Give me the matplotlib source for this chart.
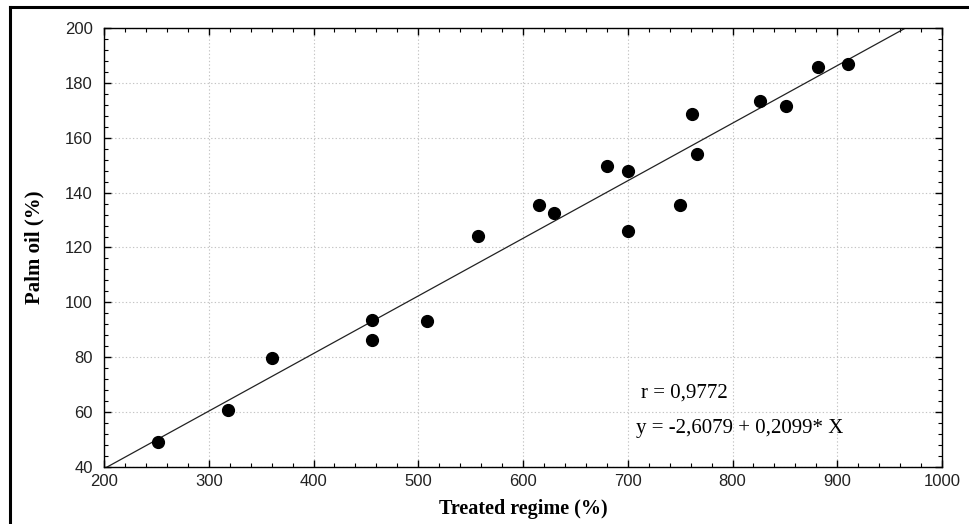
import matplotlib
matplotlib.use("Agg")
import matplotlib.pyplot as plt
import numpy as np
from matplotlib.lines import Line2D
from matplotlib.ticker import MultipleLocator

# Data
treated = [252, 318, 360, 456, 456, 508, 557, 615, 630, 680, 700, 700, 750, 761, 766, 826, 851, 882, 910]
palm =    [49.2, 60.7, 79.6, 93.7, 86.4, 93.3, 124.3, 135.6, 132.5, 149.8, 147.9, 126.1, 135.5, 168.6, 154.2, 173.5, 171.5, 185.8, 187.0]
intercept = -2.6079
slope = 0.2099
r_text = "r = 0,9772"
eq_text = "y = -2,6079 + 0,2099* X"
xlabel = "Treated regime (%)"
ylabel = "Palm oil (%)"

fig = plt.figure(figsize=(9.69, 5.24), dpi=100)
ax = fig.add_axes([104/969, 1-467/524, (942-104)/969, (467-28)/524])

ax.set_xlim(200, 1000)
ax.set_ylim(40, 200)

xl = np.array([200, 1000])
ax.plot(xl, intercept + slope*xl, color='#222222', lw=0.9, zorder=2)
ax.plot(treated, palm, 'o', color='black', ms=8.5, zorder=3)

ax.xaxis.set_major_locator(MultipleLocator(100))
ax.xaxis.set_minor_locator(MultipleLocator(20))
ax.yaxis.set_major_locator(MultipleLocator(20))
ax.yaxis.set_minor_locator(MultipleLocator(4))
ax.tick_params(which='both', direction='in', top=True, right=True, colors='black',
               labelcolor='#222222', labelsize=12)
ax.tick_params(which='major', length=5, width=1)
ax.tick_params(which='minor', length=3, width=0.8)
ax.tick_params(axis='y', pad=8)
ax.tick_params(axis='x', pad=5)
for lbl in ax.get_xticklabels() + ax.get_yticklabels():
    lbl.set_family(['Liberation Sans', 'DejaVu Sans'])
ax.grid(True, which='major', linestyle=(0, (1.2, 2.0)), color='#c4c4c4', lw=0.8)
for s in ax.spines.values():
    s.set_linewidth(1.0)
    s.set_color('black')

ax.set_xlabel(xlabel, family='Liberation Serif', fontweight='bold', fontsize=14.5)
ax.set_ylabel(ylabel, family='Liberation Serif', fontweight='bold', fontsize=15)
ax.xaxis.set_label_coords(0.5, -(499-467)/439)
ax.yaxis.set_label_coords(-(104-44)/838, 0.5)

ax.text(713, 67, r_text, family='Liberation Serif', fontsize=15, va='center', ha='left')
ax.text(708, 54, eq_text, family='Liberation Serif', fontsize=15, va='center', ha='left')

# outer frame (left and top edges visible)
fig.add_artist(Line2D([10/969, 10/969], [0, 1-7/524], transform=fig.transFigure, color='black', lw=2.2))
fig.add_artist(Line2D([10/969, 1], [1-7/524, 1-7/524], transform=fig.transFigure, color='black', lw=2.2))

fig.savefig("out.png", dpi=100)
